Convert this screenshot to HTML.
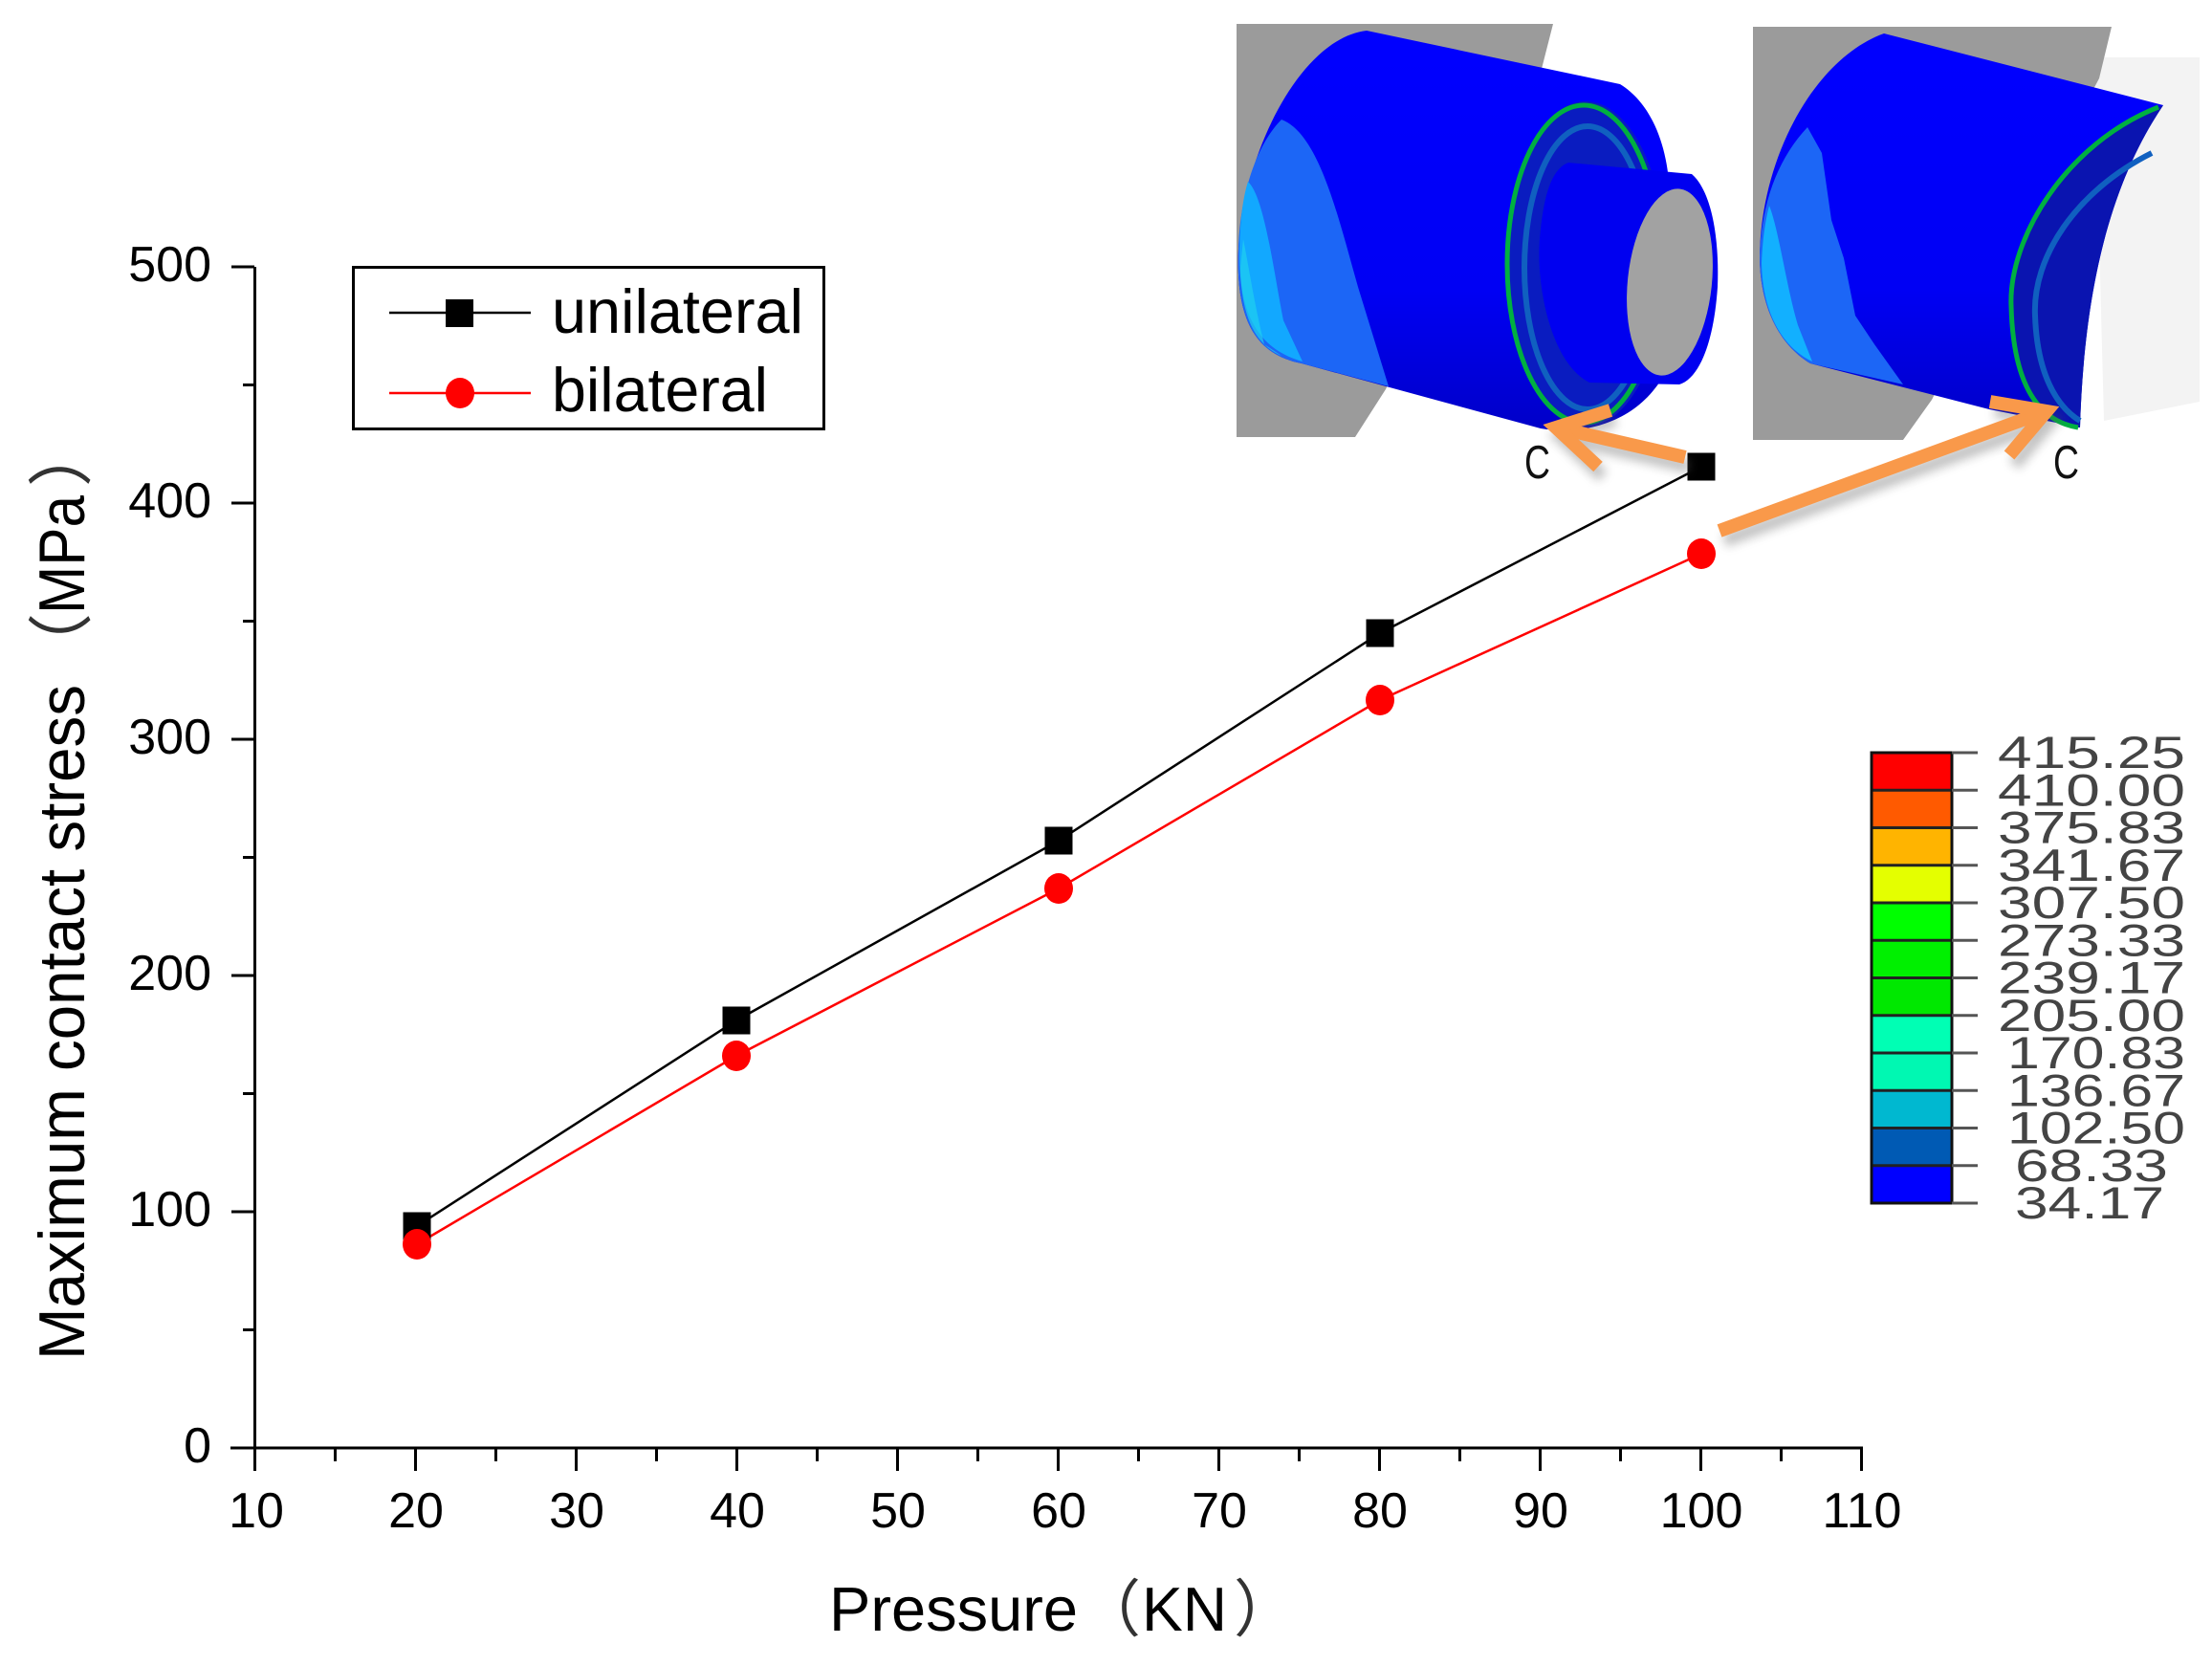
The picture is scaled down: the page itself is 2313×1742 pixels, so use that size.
<!DOCTYPE html>
<html><head><meta charset="utf-8"><style>
html,body{margin:0;padding:0;background:#fff;}
svg{display:block;}
text{font-family:"Liberation Sans","Noto Sans CJK JP",sans-serif;}
</style></head><body>
<svg width="2313" height="1742" viewBox="0 0 2313 1742" xmlns="http://www.w3.org/2000/svg">
<defs>
<linearGradient id="g1" x1="0" y1="0" x2="0" y2="1">
<stop offset="0" stop-color="#0000ff"/><stop offset="0.65" stop-color="#0000f4"/><stop offset="1" stop-color="#0000c8"/>
</linearGradient>
<filter id="sh" x="-20%" y="-20%" width="140%" height="160%">
<feGaussianBlur stdDeviation="5"/>
</filter>
</defs>
<rect width="2313" height="1742" fill="#fff"/>

<!-- ===== FEA image 1 ===== -->
<polygon points="1293,25 1624,25 1612,72 1530,240 1449,407 1417,457 1293,457" fill="#9b9b9b"/>
<path d="M1429,32 L1694,88 C1730,110 1746,160 1746,210 L1746,380 C1720,440 1660,456 1611,448 L1361,380 C1310,370 1292,330 1295,260 C1300,160 1360,40 1429,32 Z" fill="url(#g1)"/>
<path d="M1340,125 C1380,140 1400,230 1420,300 L1452,404 L1361,380 C1310,370 1292,330 1295,260 C1297,200 1315,150 1340,125 Z" fill="#1c66f6"/>
<path d="M1305,190 C1322,205 1332,285 1342,335 L1362,378 C1320,366 1297,335 1296,270 C1296,232 1300,205 1305,190 Z" fill="#12a8ff"/>
<path d="M1300,250 C1306,280 1312,320 1322,360 L1340,372 C1312,360 1298,330 1297,280 Z" fill="#20d0f0" opacity="0.7"/>
<ellipse cx="1658" cy="276" rx="84" ry="170" fill="#0a1cc0"/>
<ellipse cx="1656" cy="276" rx="80" ry="166" fill="none" stroke="#00b040" stroke-width="5"/>
<ellipse cx="1660" cy="280" rx="66" ry="148" fill="none" stroke="#1060c0" stroke-width="6"/>
<path d="M1640,170 L1769,182 C1790,200 1798,250 1796,300 C1792,360 1776,396 1756,402 L1662,400 C1622,380 1606,300 1610,250 C1614,200 1624,176 1640,170 Z" fill="#0000f0"/>
<ellipse cx="1746" cy="295" rx="44" ry="98" fill="#a2a2a2" transform="rotate(6 1746 295)"/>
<text x="1594" y="500" font-size="49" textLength="27" lengthAdjust="spacingAndGlyphs" fill="#111">C</text>

<!-- ===== FEA image 2 ===== -->
<polygon points="2190,60 2300,60 2300,420 2200,440" fill="#f3f3f3"/>
<polygon points="1833,28 2208,28 2195,82 2100,260 2020,418 1990,460 1833,460" fill="#9b9b9b"/>
<path d="M1970,35 L2262,110 C2215,180 2180,280 2175,447 L2080,428 L1893,380 C1860,360 1840,320 1840,267 C1842,160 1900,60 1970,35 Z" fill="url(#g1)"/>
<path d="M1890,133 L1905,160 L1915,230 L1928,270 L1940,330 L1960,360 L1990,402 L1893,380 C1860,360 1840,320 1840,267 C1842,210 1860,165 1890,133 Z" fill="#1c66f6"/>
<path d="M1850,215 C1860,240 1868,300 1880,340 L1895,378 C1862,362 1843,325 1842,275 C1843,250 1846,230 1850,215 Z" fill="#12b0ff"/>
<path d="M2257,112 C2160,150 2100,250 2103,320 C2105,400 2130,440 2173,447 L2175,447 C2180,280 2215,180 2262,110 Z" fill="#0a14b0"/>
<path d="M2250,160 C2170,200 2125,270 2128,330 C2130,390 2150,425 2175,440" fill="none" stroke="#1060c0" stroke-width="6"/>
<path d="M2257,112 C2160,150 2100,250 2103,320 C2105,400 2130,440 2173,447" fill="none" stroke="#00b040" stroke-width="5"/>
<text x="2147" y="500" font-size="49" textLength="27" lengthAdjust="spacingAndGlyphs" fill="#111">C</text>

<!-- ===== Colour bar ===== -->
<g stroke="none">
<rect x="1956" y="787" width="85" height="39.25" fill="#ff0000"/>
<rect x="1956" y="826.25" width="85" height="39.25" fill="#ff5a00"/>
<rect x="1956" y="865.5" width="85" height="39.25" fill="#ffb400"/>
<rect x="1956" y="904.75" width="85" height="39.25" fill="#e4ff00"/>
<rect x="1956" y="944" width="85" height="39.25" fill="#00ff00"/>
<rect x="1956" y="983.25" width="85" height="39.25" fill="#00f000"/>
<rect x="1956" y="1022.5" width="85" height="39.25" fill="#00e800"/>
<rect x="1956" y="1061.75" width="85" height="39.25" fill="#00ffb4"/>
<rect x="1956" y="1101" width="85" height="39.25" fill="#00f8b2"/>
<rect x="1956" y="1140.25" width="85" height="39.25" fill="#00b8d0"/>
<rect x="1956" y="1179.5" width="85" height="39.25" fill="#005ab4"/>
<rect x="1956" y="1218.75" width="85" height="39.25" fill="#0000ff"/>
</g>
<g stroke="#222" stroke-width="3">
<line x1="1956" y1="826.25" x2="2041" y2="826.25"/>
<line x1="1956" y1="865.5" x2="2041" y2="865.5"/>
<line x1="1956" y1="904.75" x2="2041" y2="904.75"/>
<line x1="1956" y1="944" x2="2041" y2="944"/>
<line x1="1956" y1="983.25" x2="2041" y2="983.25"/>
<line x1="1956" y1="1022.5" x2="2041" y2="1022.5"/>
<line x1="1956" y1="1061.75" x2="2041" y2="1061.75"/>
<line x1="1956" y1="1101" x2="2041" y2="1101"/>
<line x1="1956" y1="1140.25" x2="2041" y2="1140.25"/>
<line x1="1956" y1="1179.5" x2="2041" y2="1179.5"/>
<line x1="1956" y1="1218.75" x2="2041" y2="1218.75"/>
</g>
<rect x="1957" y="787" width="84" height="471" fill="none" stroke="#111" stroke-width="3"/>
<g stroke="#555" stroke-width="3">
<line x1="2041" y1="787" x2="2068" y2="787"/>
<line x1="2041" y1="826.25" x2="2068" y2="826.25"/>
<line x1="2041" y1="865.5" x2="2068" y2="865.5"/>
<line x1="2041" y1="904.75" x2="2068" y2="904.75"/>
<line x1="2041" y1="944" x2="2068" y2="944"/>
<line x1="2041" y1="983.25" x2="2068" y2="983.25"/>
<line x1="2041" y1="1022.5" x2="2068" y2="1022.5"/>
<line x1="2041" y1="1061.75" x2="2068" y2="1061.75"/>
<line x1="2041" y1="1101" x2="2068" y2="1101"/>
<line x1="2041" y1="1140.25" x2="2068" y2="1140.25"/>
<line x1="2041" y1="1179.5" x2="2068" y2="1179.5"/>
<line x1="2041" y1="1218.75" x2="2068" y2="1218.75"/>
<line x1="2041" y1="1258" x2="2068" y2="1258"/>
</g>
<g font-family="Liberation Mono, monospace" font-size="47" fill="#444" text-anchor="middle" style="font-family:'Liberation Mono',monospace">
<text x="2187" y="803" textLength="196" lengthAdjust="spacingAndGlyphs">415.25</text>
<text x="2187" y="842.25" textLength="196" lengthAdjust="spacingAndGlyphs">410.00</text>
<text x="2187" y="881.5" textLength="196" lengthAdjust="spacingAndGlyphs">375.83</text>
<text x="2187" y="920.75" textLength="196" lengthAdjust="spacingAndGlyphs">341.67</text>
<text x="2187" y="960" textLength="196" lengthAdjust="spacingAndGlyphs">307.50</text>
<text x="2187" y="999.25" textLength="196" lengthAdjust="spacingAndGlyphs">273.33</text>
<text x="2187" y="1038.5" textLength="196" lengthAdjust="spacingAndGlyphs">239.17</text>
<text x="2187" y="1077.75" textLength="196" lengthAdjust="spacingAndGlyphs">205.00</text>
<text x="2192" y="1117" textLength="186" lengthAdjust="spacingAndGlyphs">170.83</text>
<text x="2192" y="1156.25" textLength="186" lengthAdjust="spacingAndGlyphs">136.67</text>
<text x="2192" y="1195.5" textLength="186" lengthAdjust="spacingAndGlyphs">102.50</text>
<text x="2187" y="1234.75" textLength="160" lengthAdjust="spacingAndGlyphs">68.33</text>
<text x="2185" y="1274" textLength="156" lengthAdjust="spacingAndGlyphs">34.17</text>
</g>

<!-- ===== Axes ===== -->
<g stroke="#000" stroke-width="3" fill="none">
<line x1="266.5" y1="279" x2="266.5" y2="1515.5"/>
<line x1="241" y1="1514" x2="1948" y2="1514"/>
<!-- y ticks -->
<line x1="242" y1="279" x2="266" y2="279"/>
<line x1="254" y1="402.5" x2="266" y2="402.5"/>
<line x1="242" y1="526" x2="266" y2="526"/>
<line x1="254" y1="649.5" x2="266" y2="649.5"/>
<line x1="242" y1="773" x2="266" y2="773"/>
<line x1="254" y1="896.5" x2="266" y2="896.5"/>
<line x1="242" y1="1020" x2="266" y2="1020"/>
<line x1="254" y1="1143.5" x2="266" y2="1143.5"/>
<line x1="242" y1="1267" x2="266" y2="1267"/>
<line x1="254" y1="1390.5" x2="266" y2="1390.5"/>
<!-- x ticks -->
<line x1="266.5" y1="1514" x2="266.5" y2="1538"/>
<line x1="350.5" y1="1514" x2="350.5" y2="1528"/>
<line x1="434.5" y1="1514" x2="434.5" y2="1538"/>
<line x1="518.5" y1="1514" x2="518.5" y2="1528"/>
<line x1="602.5" y1="1514" x2="602.5" y2="1538"/>
<line x1="686.5" y1="1514" x2="686.5" y2="1528"/>
<line x1="770.5" y1="1514" x2="770.5" y2="1538"/>
<line x1="854.5" y1="1514" x2="854.5" y2="1528"/>
<line x1="938.5" y1="1514" x2="938.5" y2="1538"/>
<line x1="1022.5" y1="1514" x2="1022.5" y2="1528"/>
<line x1="1106.5" y1="1514" x2="1106.5" y2="1538"/>
<line x1="1190.5" y1="1514" x2="1190.5" y2="1528"/>
<line x1="1274.5" y1="1514" x2="1274.5" y2="1538"/>
<line x1="1358.5" y1="1514" x2="1358.5" y2="1528"/>
<line x1="1442.5" y1="1514" x2="1442.5" y2="1538"/>
<line x1="1526.5" y1="1514" x2="1526.5" y2="1528"/>
<line x1="1610.5" y1="1514" x2="1610.5" y2="1538"/>
<line x1="1694.5" y1="1514" x2="1694.5" y2="1528"/>
<line x1="1778.5" y1="1514" x2="1778.5" y2="1538"/>
<line x1="1862.5" y1="1514" x2="1862.5" y2="1528"/>
<line x1="1946.5" y1="1514" x2="1946.5" y2="1538"/>
</g>

<!-- y tick labels -->
<g font-size="52" fill="#000" text-anchor="end">
<text x="221" y="294">500</text>
<text x="221" y="541">400</text>
<text x="221" y="788">300</text>
<text x="221" y="1035">200</text>
<text x="221" y="1282">100</text>
<text x="221" y="1529">0</text>
</g>
<!-- x tick labels -->
<g font-size="52" fill="#000" text-anchor="middle">
<text x="268" y="1597">10</text>
<text x="435" y="1597">20</text>
<text x="603" y="1597">30</text>
<text x="771" y="1597">40</text>
<text x="939" y="1597">50</text>
<text x="1107" y="1597">60</text>
<text x="1275" y="1597">70</text>
<text x="1443" y="1597">80</text>
<text x="1611" y="1597">90</text>
<text x="1779" y="1597">100</text>
<text x="1947" y="1597">110</text>
</g>

<!-- axis titles -->
<g font-size="65" fill="#000">
<text x="867" y="1705" textLength="260" lengthAdjust="spacingAndGlyphs">Pressure</text>
<text x="1128" y="1705" fill="#333">（</text>
<text x="1194" y="1705" textLength="89" lengthAdjust="spacingAndGlyphs">KN</text>
<text x="1290" y="1705" fill="#333">）</text>
</g>
<g transform="translate(88,1422) rotate(-90)" font-size="68" fill="#000">
<text x="0" y="0" textLength="706" lengthAdjust="spacingAndGlyphs">Maximum contact stress</text>
<text x="713" y="0" fill="#333">（</text>
<text x="780" y="0" textLength="124" lengthAdjust="spacingAndGlyphs">MPa</text>
<text x="913" y="0" fill="#333">）</text>
</g>

<!-- ===== Data ===== -->
<polyline points="436,1282 770,1067 1107,879 1443,662 1779,488" fill="none" stroke="#000" stroke-width="2.5"/>
<polyline points="436,1301 770,1104 1107,929 1443,732 1779,579" fill="none" stroke="#ff0000" stroke-width="2.5"/>
<g fill="#000">
<rect x="421.5" y="1267.5" width="29" height="29"/>
<rect x="755.5" y="1052.5" width="29" height="29"/>
<rect x="1092.5" y="864.5" width="29" height="29"/>
<rect x="1428.5" y="647.5" width="29" height="29"/>
<rect x="1764.5" y="473.5" width="29" height="29"/>
</g>
<g fill="#ff0000">
<ellipse cx="436" cy="1301" rx="15" ry="16"/>
<ellipse cx="770" cy="1104" rx="15" ry="16"/>
<ellipse cx="1107" cy="929" rx="15" ry="16"/>
<ellipse cx="1443" cy="732" rx="15" ry="16"/>
<ellipse cx="1779" cy="579" rx="15" ry="16"/>
</g>

<!-- ===== Arrows ===== -->
<g filter="url(#sh)" opacity="0.35" transform="translate(5,10)" stroke="#555" stroke-width="14" fill="none" stroke-linejoin="miter">
<line x1="1762" y1="478" x2="1632" y2="448"/>
<polyline points="1684,429 1627,447 1671,488"/>
<line x1="1798" y1="555" x2="2134" y2="432"/>
<polyline points="2081,420 2140,430 2101,476"/>
</g>
<g stroke="#f9994a" stroke-width="14" fill="none" stroke-linejoin="miter" stroke-miterlimit="4">
<line x1="1762" y1="478" x2="1632" y2="448"/>
<polyline points="1684,429 1627,447 1671,488"/>
<line x1="1798" y1="555" x2="2134" y2="432"/>
<polyline points="2081,420 2140,430 2101,476"/>
</g>

<!-- ===== Legend ===== -->
<rect x="369.5" y="279.5" width="492" height="169" fill="#fff" stroke="#000" stroke-width="3"/>
<line x1="407" y1="327" x2="555" y2="327" stroke="#000" stroke-width="2.5"/>
<rect x="466" y="313" width="29" height="29" fill="#000"/>
<line x1="407" y1="411" x2="555" y2="411" stroke="#ff0000" stroke-width="2.5"/>
<ellipse cx="481" cy="411" rx="15" ry="16" fill="#ff0000"/>
<text x="577" y="348" font-size="65" textLength="263" lengthAdjust="spacingAndGlyphs">unilateral</text>
<text x="577" y="430" font-size="65" textLength="226" lengthAdjust="spacingAndGlyphs">bilateral</text>
</svg>
</body></html>
